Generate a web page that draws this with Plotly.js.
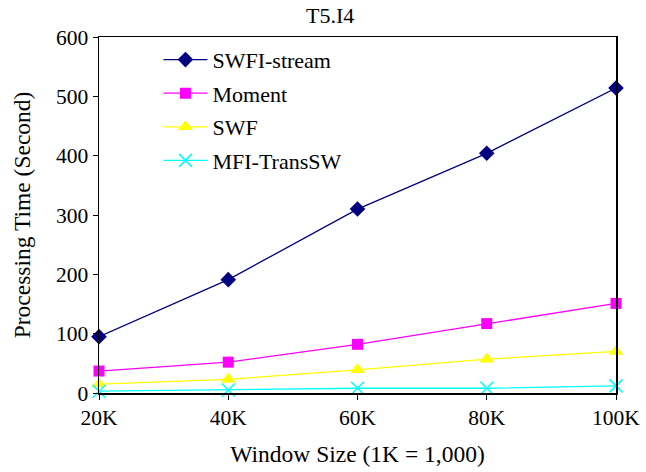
<!DOCTYPE html>
<html>
<head>
<meta charset="utf-8">
<script src="https://cdn.plot.ly/plotly-3.0.1.min.js"></script>
<style>
  html, body { margin: 0; padding: 0; background: #fff; }
  #chart { width: 646px; height: 472px; }
</style>
</head>
<body>
<div id="chart"></div>
<script>
// Window sizes on the x axis
const windowSizes = ['20K', '40K', '60K', '80K', '100K'];

// Processing time (seconds) for each method
const swfiStream = [95, 191, 310, 404, 514];
const moment = [37, 52, 82, 117, 151];
const swf = [15, 23, 39, 57, 70];
const mfiTransSW = [3, 5, 8, 8, 12];

const seriesNames = ['SWFI-stream', 'Moment', 'SWF', 'MFI-TransSW'];
const seriesValues = [swfiStream, moment, swf, mfiTransSW];
const seriesColors = ['#000080', '#FF00FF', '#FFFF00', '#00FFFF'];
const seriesSymbols = ['diamond', 'square', 'triangle-up', 'x-thin'];
const seriesSizes = [12, 11, 13, 13];

const font = '"Liberation Serif", "Times New Roman", Times, serif';

const traces = seriesNames.map((name, i) => ({
  type: 'scatter',
  mode: 'lines+markers',
  name: name,
  legendgroup: name,
  x: windowSizes,
  y: seriesValues[i],
  line: { color: seriesColors[i], width: 1.3 },
  marker: {
    symbol: seriesSymbols[i],
    size: seriesSizes[i],
    color: seriesColors[i],
    line: { color: seriesColors[i], width: seriesSymbols[i] === 'x-thin' ? 1.5 : 0 }
  },
  cliponaxis: false
}));

const layout = {
  width: 646,
  height: 472,
  margin: { l: 99, r: 30, t: 37, b: 79 },
  paper_bgcolor: '#fff',
  plot_bgcolor: '#fff',
  font: { family: font, size: 22, color: '#000' },
  title: {
    text: 'T5.I4',
    font: { family: font, size: 22, color: '#000' },
    x: 0.511, xanchor: 'center',
    y: 0.968, yanchor: 'middle'
  },
  xaxis: {
    type: 'category',
    range: [0, 4],
    showgrid: false,
    zeroline: false,
    showline: true,
    linecolor: '#000',
    linewidth: 1.5,
    mirror: true,
    ticks: 'outside',
    ticklen: 5,
    tickcolor: '#000',
    tickfont: { family: font, size: 21.5 },
    title: { text: 'Window Size (1K = 1,000)', font: { family: font, size: 23.5 }, standoff: 16 }
  },
  yaxis: {
    range: [0, 600],
    dtick: 100,
    showgrid: false,
    zeroline: false,
    showline: true,
    linecolor: '#000',
    linewidth: 1.5,
    mirror: true,
    ticks: 'outside',
    ticklen: 5,
    tickcolor: '#000',
    tickfont: { family: font, size: 21.5 },
    automargin: true,
    title: { text: 'Processing Time (Second)', font: { family: font, size: 23.5 }, standoff: 18 }
  },
  showlegend: true,
  legend: {
    x: 0.115, y: 0.995,
    xanchor: 'left', yanchor: 'top',
    bgcolor: 'rgba(0,0,0,0)',
    borderwidth: 0,
    traceorder: 'grouped',
    tracegroupgap: 2,
    itemwidth: 44,
    font: { family: font, size: 22, color: '#000' }
  }
};

Plotly.newPlot('chart', traces, layout, { displayModeBar: false, staticPlot: true });
</script>
</body>
</html>
